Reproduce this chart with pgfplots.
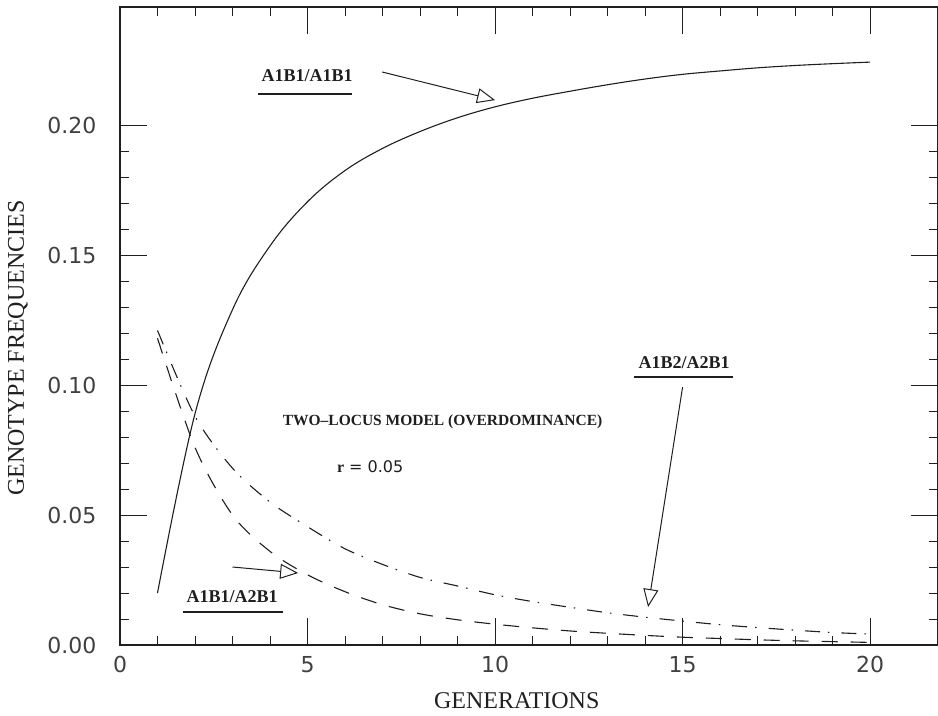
\documentclass[border=0pt]{standalone}
\usepackage{pgfplots}
\pgfplotsset{compat=1.18}
\usepackage{fontspec}
\setmainfont{Liberation Serif}
\newfontfamily\tickfont{DejaVu Sans}
\usetikzlibrary{arrows.meta}
\definecolor{ink}{gray}{0.12}

\pgfplotstableread{
g   aa      ab      cd
1   0.020   0.118   0.121
2   0.089   0.076   0.088
3   0.129   0.050   0.068
4   0.1535  0.036   0.055
5   0.1705  0.027   0.0455
6   0.1825  0.0205  0.037
7   0.1910  0.0155  0.031
8   0.1975  0.012   0.026
9   0.2028  0.0097  0.0227
10  0.2070  0.008   0.0193
11  0.2103  0.0066  0.0167
12  0.2130  0.0054  0.0145
13  0.2155  0.0045  0.0124
14  0.2177  0.0037  0.0107
15  0.2195  0.003   0.0092
16  0.2208  0.0025  0.0078
17  0.2220  0.002   0.0067
18  0.2229  0.0016  0.0057
19  0.2236  0.0013  0.0048
20  0.2242  0.001   0.0042
}\gendata

\begin{document}
\begin{tikzpicture}
\begin{axis}[
  scale only axis, width=818pt, height=638pt,
  xmin=0, xmax=21.81, ymin=0, ymax=0.2454,
  xtick={0,5,10,15,20}, ytick={0,0.05,0.10,0.15,0.20},
  minor x tick num=4, minor y tick num=4,
  tick align=inside, major tick length=27pt, minor tick length=9pt,
  every tick/.style={ink, line width=1pt},
  axis line style={ink, line width=1.2pt},
  /pgf/number format/assume math mode=true,
  ticklabel style={font=\tickfont\fontsize{22}{22}\selectfont, text=ink!85},
  xticklabel style={yshift=-8pt},
  yticklabel style={xshift=-20pt},
  yticklabel={\pgfmathprintnumber[fixed, fixed zerofill, precision=2]{\tick}},
  xlabel={GENERATIONS},
  ylabel={GENOTYPE FREQUENCIES},
  label style={font=\fontsize{24}{24}\selectfont, text=ink},
  xlabel style={at={(axis description cs:0.485,0)}, anchor=base, yshift=-63pt},
  ylabel style={at={(axis description cs:0,0.4655)}, anchor=center, yshift=102pt},
  clip=false,
]
\addplot[ink, line width=1.1pt, smooth, tension=0.6] table[x=g, y=aa] {\gendata};
\addplot[ink, line width=1.1pt, smooth, tension=0.5, dash pattern=on 16pt off 13pt] table[x=g, y=ab] {\gendata};
\addplot[ink, line width=1.1pt, smooth, tension=0.5, dash pattern=on 15pt off 8pt on 1.5pt off 12pt] table[x=g, y=cd] {\gendata};

% labels
\node[font=\bfseries\fontsize{18}{18}\selectfont, text=ink] at (axis cs:4.99,0.219) {A1B1/A1B1};
\draw[ink, line width=2pt] (axis cs:3.68,0.212) -- (axis cs:6.19,0.212);
\node[font=\bfseries\fontsize{18}{18}\selectfont, text=ink] at (axis cs:2.99,0.0185) {A1B1/A2B1};
\draw[ink, line width=2pt] (axis cs:1.68,0.0127) -- (axis cs:4.35,0.0127);
\node[font=\bfseries\fontsize{18}{18}\selectfont, text=ink] at (axis cs:15.04,0.1085) {A1B2/A2B1};
\draw[ink, line width=2pt] (axis cs:13.71,0.1031) -- (axis cs:16.35,0.1031);

% arrows
\draw[ink, line width=1pt, -{Triangle[open, length=18pt, width=15pt]}] (axis cs:6.99,0.2204) -- (axis cs:10.0,0.2096);
\draw[ink, line width=1pt, -{Triangle[open, length=18pt, width=15pt]}] (axis cs:3.0,0.030) -- (axis cs:4.75,0.0277);
\draw[ink, line width=1pt, -{Triangle[open, length=18pt, width=15pt]}] (axis cs:15.0,0.0992) -- (axis cs:14.08,0.0146);

% model text
\node[font=\bfseries\fontsize{15.5}{15.5}\selectfont, text=ink] at (axis cs:8.60,0.0858) {TWO--LOCUS MODEL (OVERDOMINANCE)};
\node[font=\tickfont\fontsize{16}{16}\selectfont, text=ink] at (axis cs:6.67,0.0685) {{\rmfamily\bfseries r} = 0.05};
\end{axis}
\pgfresetboundingbox
\path ([xshift=-120pt,yshift=-70pt]current axis.south west) rectangle ([yshift=7pt]current axis.north east);
\end{tikzpicture}
\end{document}
